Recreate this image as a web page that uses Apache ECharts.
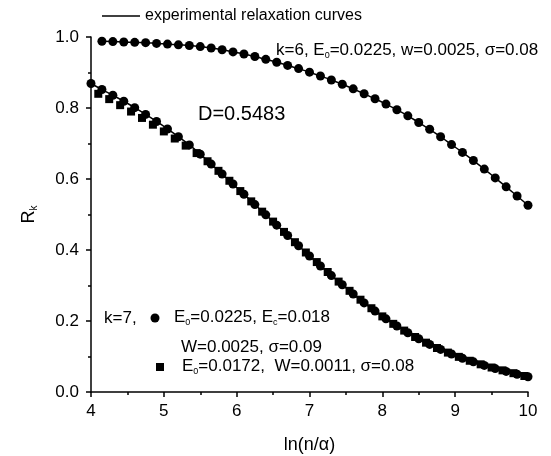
<!DOCTYPE html>
<html>
<head>
<meta charset="utf-8">
<script src="https://cdn.jsdelivr.net/npm/echarts@6/dist/echarts.min.js"></script>
<style>
  html, body { margin: 0; padding: 0; background: #fff; }
  #main { width: 551px; height: 456px; }
</style>
</head>
<body>
<div id="main"></div>
<script>
// k=6 (upper curve), circles
var k6X = [4.15, 4.30, 4.45, 4.60, 4.75, 4.90, 5.05, 5.20, 5.35, 5.50,
           5.65, 5.80, 5.95, 6.10, 6.25, 6.40, 6.55, 6.70, 6.85, 7.00,
           7.15, 7.30, 7.45, 7.60, 7.75, 7.90, 8.05, 8.20, 8.35, 8.50,
           8.65, 8.80, 8.95, 9.10, 9.25, 9.40, 9.55, 9.70, 9.85, 10.00];
var k6R = [0.988, 0.987, 0.986, 0.985, 0.984, 0.982, 0.980, 0.978, 0.976, 0.973,
           0.969, 0.964, 0.958, 0.952, 0.945, 0.937, 0.929, 0.920, 0.911, 0.901,
           0.890, 0.879, 0.867, 0.854, 0.840, 0.826, 0.811, 0.795, 0.778, 0.759,
           0.740, 0.719, 0.697, 0.675, 0.652, 0.628, 0.603, 0.578, 0.552, 0.526];

// k=7, circles (E0=0.0225, Ec=0.018)
var k7cX = [4.00, 4.15, 4.30, 4.45, 4.60, 4.75, 4.90, 5.05, 5.20, 5.35,
            5.50, 5.65, 5.80, 5.95, 6.10, 6.25, 6.40, 6.55, 6.70, 6.85,
            7.00, 7.15, 7.30, 7.45, 7.60, 7.75, 7.90, 8.05, 8.20, 8.35,
            8.50, 8.65, 8.80, 8.95, 9.10, 9.25, 9.40, 9.55, 9.70, 9.85, 10.00];
var k7cR = [0.869, 0.852, 0.836, 0.819, 0.801, 0.782, 0.762, 0.741, 0.719, 0.696,
            0.670, 0.642, 0.614, 0.586, 0.557, 0.528, 0.499, 0.470, 0.441, 0.412,
            0.383, 0.355, 0.328, 0.302, 0.276, 0.251, 0.228, 0.206, 0.186, 0.167,
            0.150, 0.134, 0.120, 0.107, 0.095, 0.085, 0.075, 0.066, 0.058, 0.050, 0.043];

// k=7, squares (E0=0.0172)
var k7sX = [4.10, 4.25, 4.40, 4.55, 4.70, 4.85, 5.00, 5.15, 5.30, 5.45,
            5.60, 5.75, 5.90, 6.05, 6.20, 6.35, 6.50, 6.65, 6.80, 6.95,
            7.10, 7.25, 7.40, 7.55, 7.70, 7.85, 8.00, 8.15, 8.30, 8.45,
            8.60, 8.75, 8.90, 9.05, 9.20, 9.35, 9.50, 9.65, 9.80, 9.95];
var k7sR = [0.840, 0.825, 0.808, 0.790, 0.772, 0.753, 0.734, 0.714, 0.694, 0.673,
            0.650, 0.623, 0.595, 0.566, 0.537, 0.508, 0.480, 0.451, 0.422, 0.393,
            0.366, 0.338, 0.311, 0.285, 0.260, 0.236, 0.213, 0.192, 0.173, 0.155,
            0.139, 0.124, 0.111, 0.099, 0.088, 0.078, 0.069, 0.061, 0.053, 0.045];

function pairs(xs, ys) {
    return xs.map(function (x, i) { return [x, ys[i]]; });
}

var chart = echarts.init(document.getElementById('main'));
var font = 'Liberation Sans, Arial, sans-serif';
var txt = { fontFamily: font, fontSize: 17, color: '#000', lineHeight: 20 };
var sub = { fontFamily: font, fontSize: 9, color: '#000', lineHeight: 20, verticalAlign: 'bottom', padding: [9, 0, 0, 0] };

var option = {
    animation: false,
    backgroundColor: '#fff',
    grid: { left: 91, right: 23, top: 37, bottom: 64, containLabel: false, outerBoundsMode: 'none' },
    legend: {
        left: 97, top: 3,
        icon: 'rect',
        itemWidth: 38, itemHeight: 1.5, itemGap: 6,
        textStyle: { fontFamily: font, fontSize: 16, color: '#000' },
        data: ['experimental relaxation curves']
    },
    xAxis: {
        type: 'value', min: 4, max: 10, interval: 1,
        name: 'ln(n/α)', nameLocation: 'middle', nameGap: 44,
        nameTextStyle: { fontFamily: font, fontSize: 18, color: '#000' },
        axisLine: { lineStyle: { color: '#000', width: 1.5 } },
        axisTick: { show: true, inside: false, length: 5, lineStyle: { color: '#000', width: 1.5 } },
        minorTick: { show: true, splitNumber: 2, length: 3, lineStyle: { color: '#000', width: 1.5 } },
        axisLabel: { fontFamily: font, fontSize: 17, color: '#000', margin: 11 },
        splitLine: { show: false }
    },
    yAxis: {
        type: 'value', min: 0, max: 1, interval: 0.2,
        name: '{m|R}{s|k}', nameLocation: 'middle', nameGap: 52, nameRotate: 90,
        nameTextStyle: {
            rich: {
                m: { fontFamily: font, fontSize: 18, color: '#000', lineHeight: 20 },
                s: { fontFamily: font, fontSize: 10, color: '#000', lineHeight: 20, verticalAlign: 'bottom', padding: [9, 0, 0, 0] }
            }
        },
        axisLine: { show: true, lineStyle: { color: '#000', width: 1.5 } },
        axisTick: { show: true, inside: false, length: 5, lineStyle: { color: '#000', width: 1.5 } },
        minorTick: { show: true, splitNumber: 2, length: 3, lineStyle: { color: '#000', width: 1.5 } },
        axisLabel: {
            fontFamily: font, fontSize: 17, color: '#000', margin: 12,
            formatter: function (v) { return v.toFixed(1); }
        },
        splitLine: { show: false }
    },
    series: [
        {
            name: 'experimental relaxation curves', type: 'line', symbol: 'none',
            smooth: true, lineStyle: { color: '#000', width: 1.5 }, itemStyle: { color: '#000' },
            data: pairs(k6X, k6R)
        },
        {
            name: 'experimental relaxation curves', type: 'line', symbol: 'none',
            smooth: true, lineStyle: { color: '#000', width: 1.5 }, itemStyle: { color: '#000' },
            data: pairs(k7cX, k7cR)
        },
        {
            name: 'k=6', type: 'scatter', symbol: 'circle', symbolSize: 9,
            itemStyle: { color: '#000', opacity: 1 },
            data: pairs(k6X, k6R)
        },
        {
            name: 'k=7 squares', type: 'scatter', symbol: 'rect', symbolSize: 8,
            itemStyle: { color: '#000', opacity: 1 },
            data: pairs(k7sX, k7sR)
        },
        {
            name: 'k=7 circles', type: 'scatter', symbol: 'circle', symbolSize: 9,
            itemStyle: { color: '#000', opacity: 1 },
            data: pairs(k7cX, k7cR)
        }
    ],
    graphic: [
        {
            type: 'text', left: 276, top: 42,
            style: { text: '{a|k=6, E}{b|0}{a|=0.0225, w=0.0025, σ=0.08}', rich: { a: txt, b: sub } }
        },
        {
            type: 'text', left: 198, top: 104,
            style: { text: 'D=0.5483', fontFamily: font, fontSize: 20, fill: '#000' }
        },
        {
            type: 'text', left: 104, top: 310,
            style: { text: 'k=7,', fontFamily: font, fontSize: 17, fill: '#000' }
        },
        { type: 'circle', shape: { cx: 155, cy: 318, r: 4.5 }, style: { fill: '#000' } },
        {
            type: 'text', left: 174, top: 309,
            style: { text: '{a|E}{b|0}{a|=0.0225, E}{b|c}{a|=0.018}', rich: { a: txt, b: sub } }
        },
        {
            type: 'text', left: 181, top: 339,
            style: { text: 'W=0.0025, σ=0.09', fontFamily: font, fontSize: 17, fill: '#000' }
        },
        { type: 'rect', shape: { x: 156, y: 363, width: 8, height: 8 }, style: { fill: '#000' } },
        {
            type: 'text', left: 182, top: 358,
            style: { text: '{a|E}{b|0}{a|=0.0172,  W=0.0011, σ=0.08}', rich: { a: txt, b: sub } }
        }
    ]
};

chart.setOption(option);
</script>
</body>
</html>
